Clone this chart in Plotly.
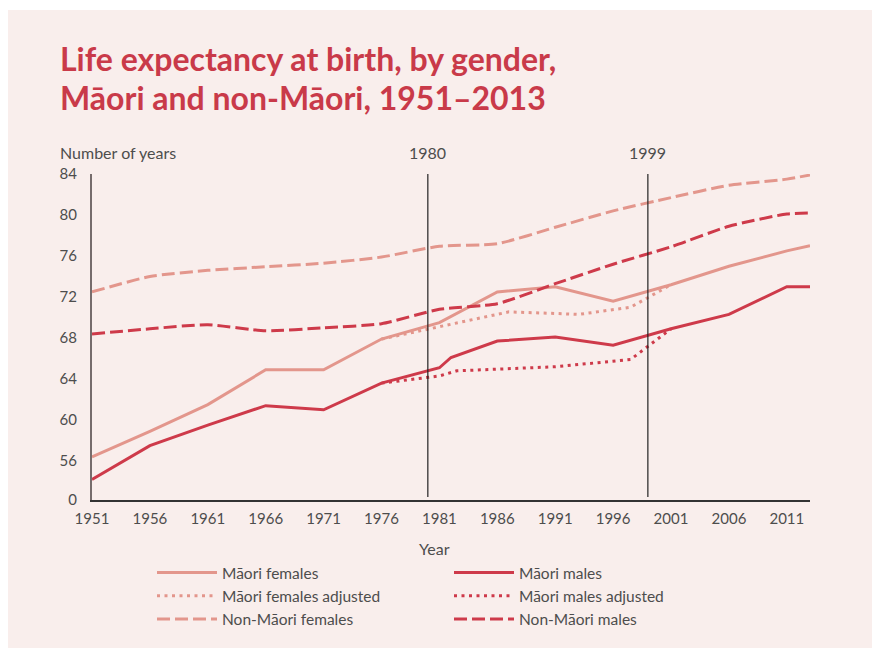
import plotly.graph_objects as go

# ---------------- data ----------------
YEARS = [1951, 1956, 1961, 1966, 1971, 1976, 1981, 1986, 1991, 1996, 2001, 2006, 2011, 2013]
MAORI_FEMALES = [56.4, 58.9, 61.5, 64.9, 64.9, 67.9, 69.5, 72.5, 73.0, 71.6, 73.2, 75.0, 76.5, 77.0]
NON_MAORI_FEMALES = [72.5, 74.0, 74.6, 74.95, 75.3, 75.9, 76.95, 77.2, 78.8, 80.4, 81.7, 82.9, 83.5, 83.9]
NON_MAORI_MALES = [68.4, 68.9, 69.3, 68.7, 69.0, 69.4, 70.8, 71.35, 73.3, 75.2, 76.9, 78.9, 80.1, 80.2]

MAORI_MALES_YEARS = [1951, 1956, 1961, 1966, 1971, 1976, 1981, 1982, 1986, 1991, 1996, 2001, 2006, 2011, 2013]
MAORI_MALES = [54.2, 57.5, 59.5, 61.4, 61.0, 63.6, 65.1, 66.1, 67.7, 68.1, 67.3, 68.9, 70.3, 73.0, 73.0]

MF_ADJ_YEARS = [1976, 1981, 1987, 1991, 1993, 1997.5, 2001]
MAORI_FEMALES_ADJ = [67.9, 69.1, 70.55, 70.4, 70.3, 71.0, 73.2]

MM_ADJ_YEARS = [1976, 1981, 1982.5, 1991, 1997.5, 2001]
MAORI_MALES_ADJ = [63.6, 64.3, 64.8, 65.2, 65.9, 68.9]

SERIES_NAMES = ["Māori females", "Māori males", "Māori females adjusted",
                "Māori males adjusted", "Non-Māori females", "Non-Māori males"]

X_TICKS = [1951, 1956, 1961, 1966, 1971, 1976, 1981, 1986, 1991, 1996, 2001, 2006, 2011]
Y_TICK_VALUES = [52.2, 56, 60, 64, 68, 72, 76, 80, 84]
Y_TICK_LABELS = ["0", "56", "60", "64", "68", "72", "76", "80", "84"]
MARKER_YEARS = [1980, 1999]

TITLE_LINES = ["Life expectancy at birth, by gender,", "Māori and non-Māori, 1951–2013"]

# ---------------- style ----------------
LIGHT = "#E3968C"
RED = "#CE3A4A"
BG = "#F9EEEC"
TXT = "#4D4D4D"
TITLE_C = "#C93A49"
FONT = "Lato"

OFF = 8  # page body margin
L, R, T, B = 84, 70, 166, 151
W, H = 872, 643
PW, PH = W - L - R, H - T - B


def px_x(sx):
    return (sx - OFF - L) / PW


def px_y(sy):
    return (H - B - (sy - OFF)) / PH


DASH = "13px,5px"
DOT = "3px,4.5px"

fig = go.Figure()
fig.add_trace(go.Scatter(x=YEARS, y=MAORI_FEMALES, name=SERIES_NAMES[0], mode="lines",
                         line=dict(color=LIGHT, width=3)))
fig.add_trace(go.Scatter(x=MAORI_MALES_YEARS, y=MAORI_MALES, name=SERIES_NAMES[1], mode="lines",
                         line=dict(color=RED, width=3)))
fig.add_trace(go.Scatter(x=MF_ADJ_YEARS, y=MAORI_FEMALES_ADJ, name=SERIES_NAMES[2], mode="lines",
                         line=dict(color=LIGHT, width=3, dash=DOT)))
fig.add_trace(go.Scatter(x=MM_ADJ_YEARS, y=MAORI_MALES_ADJ, name=SERIES_NAMES[3], mode="lines",
                         line=dict(color=RED, width=3, dash=DOT)))
fig.add_trace(go.Scatter(x=YEARS, y=NON_MAORI_FEMALES, name=SERIES_NAMES[4], mode="lines",
                         line=dict(color=LIGHT, width=3, dash=DASH, shape="spline", smoothing=0.6)))
fig.add_trace(go.Scatter(x=YEARS, y=NON_MAORI_MALES, name=SERIES_NAMES[5], mode="lines",
                         line=dict(color=RED, width=3, dash=DASH, shape="spline", smoothing=0.6)))

shapes = [dict(type="rect", xref="paper", yref="paper", x0=px_x(OFF), x1=px_x(877),
               y0=px_y(648), y1=px_y(10), fillcolor=BG, line=dict(width=0), layer="below")]
for yr in MARKER_YEARS:
    shapes.append(dict(type="line", xref="x", yref="paper", x0=yr, x1=yr, y0=px_y(497), y1=1,
                       line=dict(color="#222222", width=1.2)))

annotations = [
    dict(text="<b>" + TITLE_LINES[0] + "</b>", x=px_x(58), y=px_y(58), xref="paper", yref="paper",
         xanchor="left", yanchor="middle", showarrow=False, font=dict(size=32, color=TITLE_C, family=FONT)),
    dict(text="<b>" + TITLE_LINES[1] + "</b>", x=px_x(58), y=px_y(97), xref="paper", yref="paper",
         xanchor="left", yanchor="middle", showarrow=False, font=dict(size=32, color=TITLE_C, family=FONT)),
    dict(text="Number of years", x=px_x(58), y=px_y(153), xref="paper", yref="paper",
         xanchor="left", yanchor="middle", showarrow=False, font=dict(size=16, color=TXT, family=FONT)),
    dict(text="Year", x=px_x(434), y=px_y(548), xref="paper", yref="paper",
         xanchor="center", yanchor="middle", showarrow=False, font=dict(size=16, color=TXT, family=FONT)),
]
for yr in MARKER_YEARS:
    annotations.append(dict(text=str(yr), x=yr, y=px_y(153), xref="x", yref="paper",
                            xanchor="center", yanchor="middle", showarrow=False,
                            font=dict(size=16, color=TXT, family=FONT)))

fig.update_layout(
    width=W, height=H,
    margin=dict(l=L, r=R, t=T, b=B, autoexpand=False),
    paper_bgcolor="white", plot_bgcolor=BG,
    font=dict(family=FONT, size=15, color=TXT),
    shapes=shapes, annotations=annotations,
    showlegend=True,
    legend=dict(orientation="h", x=px_x(152), xanchor="left", y=px_y(556), yanchor="top",
                entrywidth=222, entrywidthmode="pixels", itemwidth=60,
                bgcolor="rgba(0,0,0,0)", font=dict(size=15.5, color=TXT, family=FONT),
                tracegroupgap=0, itemclick=False),
    xaxis=dict(range=[1951, 2013], tickvals=X_TICKS, showgrid=False, zeroline=False,
               showline=True, linecolor="#333333", linewidth=1.5,
               ticks="outside", ticklen=4, tickcolor="rgba(0,0,0,0)",
               tickfont=dict(size=15, color=TXT, family=FONT)),
    yaxis=dict(range=[52.2, 84], tickvals=Y_TICK_VALUES, ticktext=Y_TICK_LABELS,
               showgrid=False, zeroline=False, showline=True, linecolor="#766C6C", linewidth=2,
               ticks="outside", ticklen=10, tickcolor="rgba(0,0,0,0)",
               tickfont=dict(size=15, color=TXT, family=FONT)),
)

fig.write_html("out.html")
